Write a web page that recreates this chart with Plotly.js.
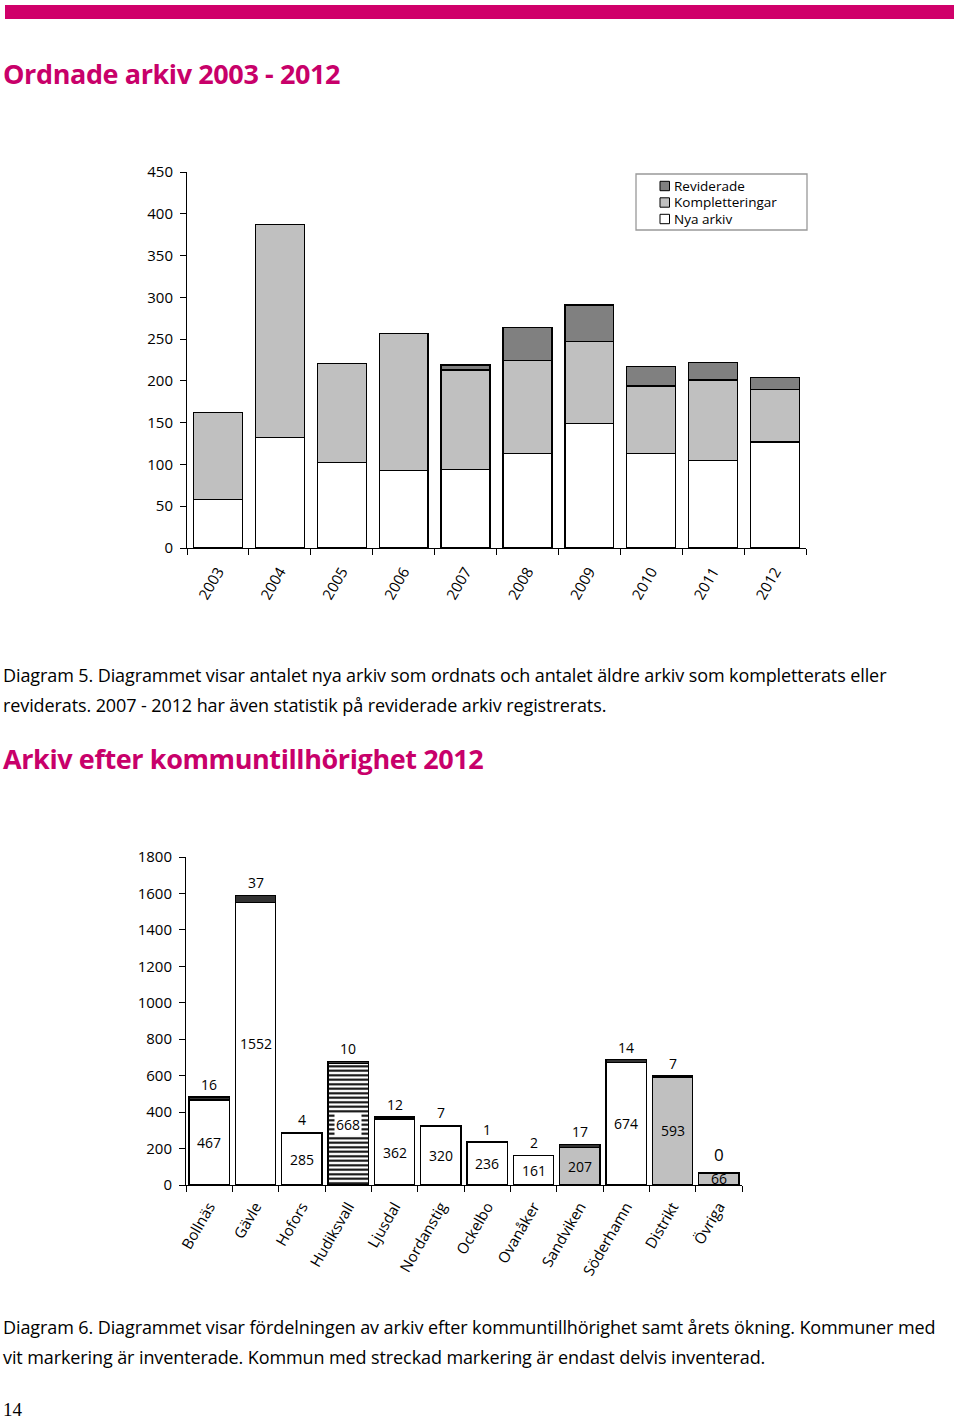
<!DOCTYPE html>
<html>
<head>
<meta charset="utf-8">
<script src="https://cdn.plot.ly/plotly-3.0.1.min.js"></script>
<style>
  html, body { margin: 0; padding: 0; background: #fff; }
  body { width: 960px; height: 1418px; position: relative; overflow: hidden; font-family: "Open Sans", sans-serif; color: #000; }
  #bar { position: absolute; left: 5px; top: 5px; width: 949px; height: 14px; background: #d0006a; }
  .title { position: absolute; left: 3px; font-family: "Open Sans", sans-serif; font-weight: 700; color: #c8006a; font-size: 27px; line-height: 34px; letter-spacing: -0.4px; white-space: nowrap; }
  .cap { position: absolute; left: 3px; font-family: "Open Sans", sans-serif; font-size: 18px; line-height: 30px; letter-spacing: -0.1px; white-space: nowrap; }
  #page { position: absolute; left: 3px; top: 1398px; font-family: "Liberation Serif", serif; font-size: 19px; line-height: 24px; }
  #plot { position: absolute; left: 0; top: 0; width: 960px; height: 1418px; }
</style>
</head>
<body>
<div id="plot"></div>
<div id="bar"></div>
<div class="title" style="top:57px;">Ordnade arkiv 2003 - 2012</div>
<div class="cap" style="top:660px;">Diagram 5. Diagrammet visar antalet nya arkiv som ordnats och antalet äldre arkiv som kompletterats eller<br>reviderats. 2007 - 2012 har även statistik på reviderade arkiv registrerats.</div>
<div class="title" style="top:742px;">Arkiv efter kommuntillhörighet 2012</div>
<div class="cap" style="top:1312px;">Diagram 6. Diagrammet visar fördelningen av arkiv efter kommuntillhörighet samt årets ökning. Kommuner med<br>vit markering är inventerade. Kommun med streckad markering är endast delvis inventerad.</div>
<div id="page">14</div>
<script>
// ---- Diagram 5 data ----
const years = ['2003','2004','2005','2006','2007','2008','2009','2010','2011','2012'];
const nyaArkiv = [58,132,102,93,94,113,149,113,105,127];
const kompletteringar = [104,255,119,164,119,111,98,81,96,63];
const reviderade = [null,null,null,null,6,40,44,23,21,14];
const serieNamn = ['Nya arkiv','Kompletteringar','Reviderade'];

// ---- Diagram 6 data ----
const kommuner = ['Bollnäs','Gävle','Hofors','Hudiksvall','Ljusdal','Nordanstig','Ockelbo','Ovanåker','Sandviken','Söderhamn','Distrikt','Övriga'];
const arkiv2012 = [467,1552,285,668,362,320,236,161,207,674,593,66];
const okning = [16,37,4,10,12,7,1,2,17,14,7,0];
const inventering = ['vit','vit','vit','delvis','vit','vit','vit','vit','grå','vit','grå','grå'];

const W = 960, H = 1418;
const px = v => v / W;
const py = v => 1 - v / H;

const baseFont = {family: '"Open Sans", sans-serif', size: 14, color: '#000'};
const lineStyle = {color: '#000', width: 1.3};
const serieFarg = ['#ffffff', '#c0c0c0', '#808080'];

const helt = arkiv2012.map((v, i) => inventering[i] === 'delvis' ? null : v);
const delvis = arkiv2012.map((v, i) => inventering[i] === 'delvis' ? v : null);

const traces = [
  {type: 'bar', name: serieNamn[0], x: years, y: nyaArkiv, xaxis: 'x', yaxis: 'y',
   marker: {color: serieFarg[0], line: lineStyle}},
  {type: 'bar', name: serieNamn[1], x: years, y: kompletteringar, xaxis: 'x', yaxis: 'y',
   marker: {color: serieFarg[1], line: lineStyle}},
  {type: 'bar', name: serieNamn[2], x: years, y: reviderade, xaxis: 'x', yaxis: 'y',
   marker: {color: serieFarg[2], line: lineStyle}},
  {type: 'bar', name: 'Arkiv 2012', x: kommuner, y: helt, xaxis: 'x2', yaxis: 'y2', width: 0.87,
   marker: {color: inventering.map(s => s === 'grå' ? '#c0c0c0' : '#ffffff'), line: lineStyle}},
  {type: 'bar', name: 'Arkiv 2012 (delvis)', x: kommuner, y: delvis, xaxis: 'x2', yaxis: 'y2', width: 0.87,
   marker: {color: '#ffffff', line: lineStyle,
     pattern: {shape: '-', fgcolor: '#000000', bgcolor: '#ffffff', size: 4.5, solidity: 0.45, fillmode: 'replace'}}},
  {type: 'bar', name: 'Ökning', x: kommuner, y: okning, xaxis: 'x2', yaxis: 'y2', width: 0.87,
   marker: {color: '#333333', line: {color: '#000', width: 1.3}}}
];

const annotations = [];
const shapes = [];
kommuner.forEach((k, i) => {
  annotations.push({
    xref: 'x2', yref: 'y2', x: k, y: arkiv2012[i] / 2, text: String(arkiv2012[i]),
    showarrow: false, font: baseFont,
    bgcolor: inventering[i] === 'delvis' ? '#ffffff' : 'rgba(0,0,0,0)',
    borderpad: 1
  });
  annotations.push({
    xref: 'x2', yref: 'y2', x: k, y: arkiv2012[i] + okning[i], text: String(okning[i]),
    showarrow: false, yanchor: 'bottom', yshift: okning[i] === 0 ? 5 : 1,
    font: Object.assign({}, baseFont, {size: okning[i] === 0 ? 17 : 14})
  });
});

// Legend (custom, to match the compact boxed legend)
shapes.push({type: 'rect', xref: 'paper', yref: 'paper',
  x0: px(636), x1: px(807), y0: py(230), y1: py(174),
  line: {color: '#999', width: 1.3}, fillcolor: '#fff', layer: 'above'});
const legY = [186, 202.5, 219];
[2, 1, 0].forEach((s, j) => {
  shapes.push({type: 'rect', xref: 'paper', yref: 'paper',
    x0: px(660), x1: px(669.5), y0: py(legY[j] + 4.7), y1: py(legY[j] - 4.7),
    line: {color: '#000', width: 1}, fillcolor: serieFarg[s], layer: 'above'});
  annotations.push({xref: 'paper', yref: 'paper', x: px(673), y: py(legY[j]),
    xanchor: 'left', yanchor: 'middle', showarrow: false, text: serieNamn[s], borderpad: 0,
    font: {family: '"Open Sans", sans-serif', size: 13.5, color: '#000'}});
});

const axisCommon = {
  showgrid: false, zeroline: false, showline: true, linecolor: '#000', linewidth: 1,
  ticks: 'outside', tickcolor: '#000', tickwidth: 1, ticklen: 6,
  tickfont: {family: '"Open Sans", sans-serif', size: 15, color: '#000'}, fixedrange: true
};

const layout = {
  width: W, height: H, margin: {l: 0, r: 0, t: 0, b: 0},
  paper_bgcolor: 'rgba(0,0,0,0)', plot_bgcolor: 'rgba(0,0,0,0)',
  barmode: 'stack', bargap: 0.21,
  showlegend: false,
  xaxis: Object.assign({}, axisCommon, {
    domain: [px(187), px(806)], anchor: 'y', type: 'category', tickson: 'boundaries',
    tickangle: -60, ticklabelstandoff: 8
  }),
  yaxis: Object.assign({}, axisCommon, {
    domain: [py(548), py(172)], anchor: 'x', range: [0, 450], dtick: 50, ticklabelstandoff: 4
  }),
  xaxis2: Object.assign({}, axisCommon, {
    domain: [px(186), px(742)], anchor: 'y2', type: 'category', tickson: 'boundaries',
    tickangle: -60, ticklabelstandoff: 6
  }),
  yaxis2: Object.assign({}, axisCommon, {
    domain: [py(1185), py(857)], anchor: 'x2', range: [0, 1800], dtick: 200, ticklabelstandoff: 4
  }),
  shapes: shapes,
  annotations: annotations
};

Plotly.newPlot('plot', traces, layout, {staticPlot: true, displayModeBar: false});
</script>
</body>
</html>
